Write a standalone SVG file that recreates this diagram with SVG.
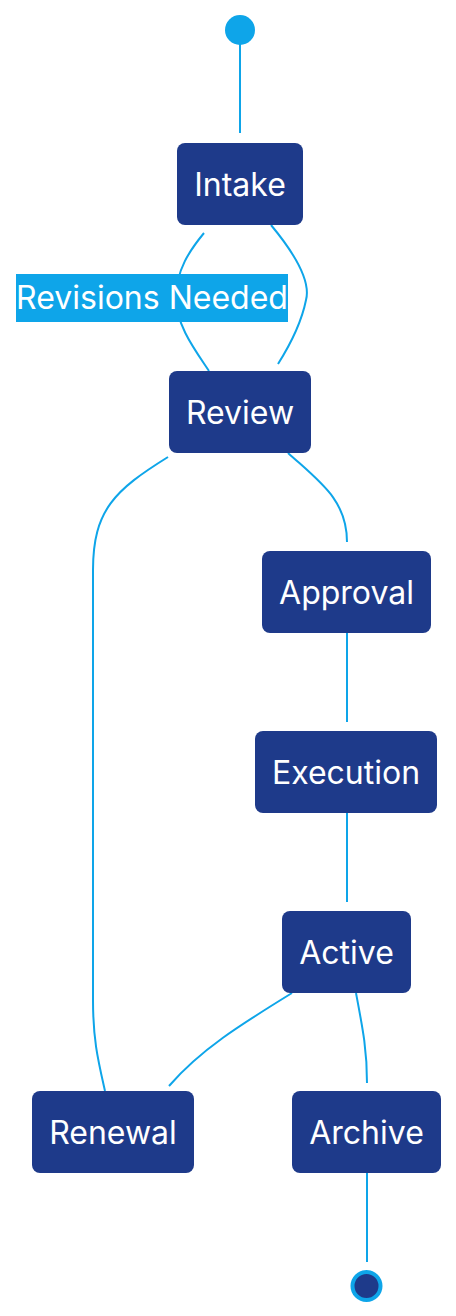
<svg xmlns="http://www.w3.org/2000/svg" width="456" height="1316" viewBox="0 0 456 1316">
<style>
.node rect{fill:#1e3a8a;}
.node text{fill:#ffffff;font-family:Inter,"Liberation Sans",sans-serif;font-size:32px;text-anchor:middle;}
.edge{fill:none;stroke:#0ea5e9;stroke-width:2;}
.lbl rect{fill:#0ea5e9;}
.lbl text{fill:#ffffff;font-family:Inter,"Liberation Sans",sans-serif;font-size:32px;text-anchor:middle;}
</style>
<rect width="456" height="1316" fill="#ffffff"/>
<g id="connectors">
<path class="edge" d="M240,44 L240,133"/>
<path class="edge" d="M271,225 C300,260 310,285 306,300 C302,320 290,345 278,364"/>
<path class="edge" d="M209,371 C195,350 176,325 176,298 C176,270 190,250 204,233"/>
<path class="edge" d="M105,1091 C98,1060 93,1040 93,1000 L93,570 C93,510 115,490 168,457"/>
<path class="edge" d="M288,453 C320,482 347,500 347,542"/>
<path class="edge" d="M347,633 L347,722"/>
<path class="edge" d="M347,813 L347,902"/>
<path class="edge" d="M292,993 C240,1025 200,1050 169,1086"/>
<path class="edge" d="M356,993 C363,1030 367,1050 367,1083"/>
<path class="edge" d="M367,1173 L367,1262"/>
</g>
<g id="start"><circle cx="240" cy="30" r="15" fill="#0ea5e9"/></g>
<g id="end"><circle cx="366.5" cy="1286" r="14" fill="#1e3a8a" stroke="#0ea5e9" stroke-width="4"/></g>
<g id="label-revisions" class="lbl"><rect x="16" y="274" width="272" height="48"/><text x="152" y="309">Revisions Needed</text></g>
<g id="intake" class="node"><rect x="177" y="143" width="126" height="82" rx="8"/><text x="240" y="196">Intake</text></g>
<g id="review" class="node"><rect x="169" y="371" width="142" height="82" rx="8"/><text x="240" y="424">Review</text></g>
<g id="approval" class="node"><rect x="262" y="551" width="169" height="82" rx="8"/><text x="346.5" y="604">Approval</text></g>
<g id="execution" class="node"><rect x="255" y="731" width="182" height="82" rx="8"/><text x="346" y="784">Execution</text></g>
<g id="active" class="node"><rect x="282" y="911" width="129" height="82" rx="8"/><text x="346.5" y="964">Active</text></g>
<g id="renewal" class="node"><rect x="32" y="1091" width="162" height="82" rx="8"/><text x="113" y="1144">Renewal</text></g>
<g id="archive" class="node"><rect x="292" y="1091" width="149" height="82" rx="8"/><text x="366.5" y="1144">Archive</text></g>
</svg>
